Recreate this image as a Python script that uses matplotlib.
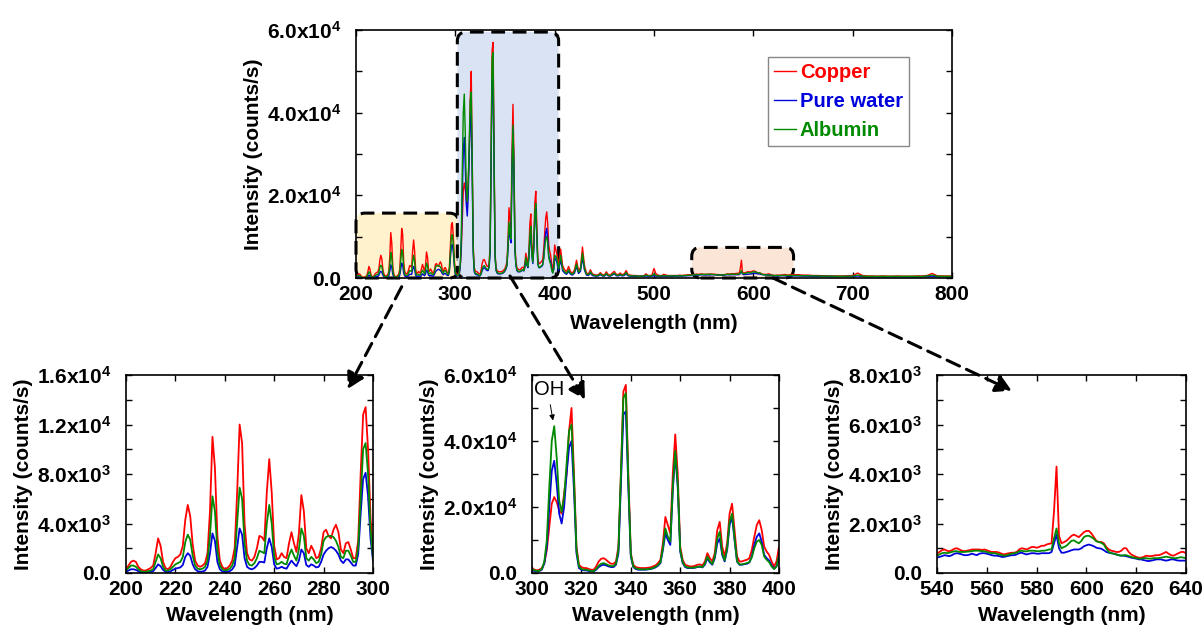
import numpy as np
import matplotlib.pyplot as plt
from matplotlib.patches import FancyBboxPatch, FancyArrowPatch
from matplotlib.ticker import MultipleLocator, FuncFormatter

plt.rcParams['font.family'] = 'Liberation Sans'
plt.rcParams['font.weight'] = 'bold'
plt.rcParams['mathtext.fontset'] = 'custom'
plt.rcParams['mathtext.rm'] = 'Liberation Sans'
plt.rcParams['mathtext.it'] = 'Liberation Sans:italic'
plt.rcParams['mathtext.bf'] = 'Liberation Sans:bold'

# emission spectra, intensity in 10^3 counts/s
wl_uv = np.arange(200, 300)          # 200-299 nm, 1 nm
cu_uv = [0.3, 0.6, 0.9, 1.0, 0.9, 0.5, 0.3, 0.2, 0.2, 0.3,
         0.4, 0.6, 1.6, 2.8, 2.2, 0.9, 0.4, 0.3, 0.5, 0.9,
         1.2, 1.3, 1.5, 2.2, 4.3, 5.5, 4.6, 2.3, 1.0, 0.6,
         0.5, 0.6, 0.8, 1.6, 5.0, 11.0, 8.5, 3.0, 1.0, 0.5,
         0.3, 0.4, 0.6, 1.0, 2.0, 6.5, 12.0, 10.5, 4.0, 1.6,
         1.1, 1.0, 1.3, 2.0, 3.0, 2.9, 2.6, 6.5, 9.2, 6.5,
         2.2, 1.1, 1.2, 1.6, 1.3, 1.2, 2.4, 3.3, 2.4, 1.7,
         3.2, 6.3, 5.0, 2.0, 1.6, 2.2, 1.8, 1.2, 1.3, 2.0,
         3.3, 3.5, 3.0, 2.8, 3.5, 3.9, 3.3, 1.9, 1.6, 2.4,
         2.5, 1.9, 1.2, 1.2, 2.6, 8.0, 12.8, 13.4, 10.0, 4.5]
water_uv = [0.1, 0.2, 0.3, 0.3, 0.25, 0.15, 0.05, 0.03, 0.03, 0.05,
            0.1, 0.15, 0.4, 0.7, 0.55, 0.25, 0.1, 0.08, 0.12, 0.25,
            0.35, 0.4, 0.45, 0.65, 1.3, 1.6, 1.4, 0.7, 0.3, 0.15,
            0.1, 0.12, 0.2, 0.5, 1.6, 3.2, 2.6, 0.9, 0.3, 0.12,
            0.08, 0.1, 0.15, 0.3, 0.6, 2.1, 3.6, 3.1, 1.2, 0.5,
            0.35, 0.3, 0.4, 0.6, 0.9, 0.9, 0.85, 2.0, 2.8, 2.1,
            0.7, 0.35, 0.4, 0.5, 0.4, 0.35, 0.7, 1.0, 0.75, 0.55,
            1.0, 1.9, 1.6, 0.65, 0.5, 0.7, 0.6, 0.45, 0.5, 0.9,
            1.5, 1.8, 2.0, 2.1, 2.0, 1.8, 1.5, 1.0, 0.8, 1.1,
            1.1, 0.85, 0.6, 0.6, 1.5, 4.8, 7.6, 8.1, 6.2, 2.8]
alb_uv = [0.2, 0.4, 0.6, 0.6, 0.5, 0.3, 0.15, 0.1, 0.1, 0.15,
          0.2, 0.3, 0.9, 1.5, 1.2, 0.5, 0.2, 0.2, 0.3, 0.5,
          0.7, 0.8, 0.9, 1.3, 2.5, 3.1, 2.7, 1.4, 0.6, 0.35,
          0.3, 0.35, 0.5, 1.0, 3.0, 6.2, 5.0, 1.8, 0.6, 0.3,
          0.2, 0.25, 0.35, 0.6, 1.2, 4.0, 6.9, 6.0, 2.4, 1.0,
          0.65, 0.6, 0.8, 1.2, 1.8, 1.7, 1.6, 4.0, 5.5, 4.0,
          1.3, 0.7, 0.75, 0.9, 0.75, 0.7, 1.4, 1.9, 1.4, 1.0,
          1.9, 3.6, 3.0, 1.2, 1.0, 1.3, 1.1, 0.8, 0.9, 1.5,
          2.6, 2.9, 3.0, 3.0, 2.9, 2.6, 2.1, 1.3, 1.2, 1.8,
          1.8, 1.4, 0.9, 0.9, 2.0, 6.0, 10.0, 10.5, 8.0, 3.5]

wl_oh = np.arange(300, 401)          # 300-400 nm, 1 nm
cu_oh = [1.5, 1.0, 0.8, 1.0, 1.5, 3.0, 7.0, 14.0, 21.0, 23.0,
         21.5, 19.0, 18.0, 24.0, 30.0, 43.0, 50.0, 30.0, 8.0, 2.5,
         1.8, 1.5, 1.5, 1.2, 1.0, 1.0, 2.0, 3.5, 4.3, 4.5,
         4.0, 3.3, 2.8, 2.8, 3.5, 8.0, 30.0, 55.0, 57.0, 30.0,
         6.0, 2.5, 1.8, 1.6, 1.5, 1.5, 1.5, 1.6, 1.7, 2.0,
         2.3, 3.0, 4.0, 9.0, 17.0, 14.5, 12.0, 30.0, 42.0, 30.0,
         8.0, 4.0, 2.5, 2.2, 2.0, 2.0, 2.2, 2.5, 2.6, 2.3,
         3.5, 6.0, 4.5, 3.5, 6.0, 13.0, 15.5, 8.0, 5.0, 9.0,
         18.0, 21.0, 13.0, 5.0, 3.5, 3.5, 3.8, 4.0, 4.5, 7.0,
         11.0, 14.5, 16.0, 13.0, 8.0, 6.5, 5.5, 3.5, 2.0, 3.5,
         8.0]
water_oh = [1.0, 0.6, 0.5, 0.6, 1.0, 3.0, 8.0, 20.0, 31.0, 34.0,
            27.0, 18.0, 15.0, 20.0, 30.0, 38.0, 40.0, 25.0, 6.0, 1.5,
            1.0, 0.8, 0.8, 0.6, 0.5, 0.5, 1.0, 1.8, 2.3, 2.5,
            2.3, 2.0, 1.8, 1.8, 2.5, 6.0, 27.0, 48.0, 49.0, 26.0,
            5.0, 1.8, 1.2, 1.0, 1.0, 1.0, 1.0, 1.1, 1.2, 1.4,
            1.7, 2.2, 3.0, 7.0, 12.0, 10.0, 8.5, 25.0, 36.0, 26.0,
            6.5, 3.0, 1.8, 1.5, 1.5, 1.5, 1.6, 1.8, 1.9, 1.7,
            2.5, 4.5, 3.2, 2.5, 4.5, 9.0, 10.5, 5.5, 3.5, 7.0,
            14.5, 17.0, 10.0, 3.5, 2.5, 2.5, 2.7, 2.8, 3.2, 5.0,
            8.5, 11.0, 12.0, 9.5, 5.5, 4.5, 3.8, 2.3, 1.3, 2.0,
            5.0]
alb_oh = [1.2, 0.8, 0.6, 0.7, 1.2, 3.5, 10.0, 26.0, 40.0, 44.5,
          35.0, 22.0, 18.5, 23.0, 33.0, 43.0, 45.0, 28.0, 7.0, 2.0,
          1.2, 1.0, 1.0, 0.8, 0.6, 0.6, 1.2, 2.2, 2.8, 3.0,
          2.7, 2.3, 2.1, 2.1, 2.8, 7.0, 30.0, 53.0, 54.5, 28.0,
          5.5, 2.0, 1.4, 1.2, 1.1, 1.1, 1.1, 1.2, 1.3, 1.5,
          1.9, 2.4, 3.3, 7.5, 13.5, 11.0, 9.5, 26.0, 37.0, 27.0,
          7.0, 3.3, 2.0, 1.7, 1.6, 1.6, 1.7, 1.9, 2.0, 1.8,
          2.8, 5.0, 3.5, 2.7, 5.0, 10.5, 12.5, 6.0, 3.8, 7.5,
          15.5, 18.0, 10.5, 3.6, 2.6, 2.6, 2.8, 3.0, 3.3, 4.8,
          7.5, 9.5, 10.0, 8.5, 5.0, 4.0, 3.3, 2.0, 1.2, 2.0,
          5.5]

wl_vis = np.arange(402, 540, 2)      # 402-538 nm, 2 nm
cu_vis = [6.0, 3.0, 7.0, 3.0, 2.0, 1.5, 2.8, 1.5, 1.2, 2.0,
          4.3, 1.8, 2.5, 7.5, 3.0, 1.2, 1.0, 2.0, 1.0, 0.8,
          0.7, 0.8, 1.3, 0.8, 0.7, 1.5, 0.8, 0.7, 1.2, 1.6,
          0.9, 0.8, 1.2, 0.8, 1.0, 1.8, 0.8, 0.7, 0.6, 0.6,
          0.6, 0.5, 0.5, 0.5, 0.6, 1.0, 0.6, 0.6, 0.7, 2.3,
          1.0, 0.7, 0.6, 0.6, 0.9, 0.7, 0.6, 0.6, 0.6, 0.6,
          0.6, 0.6, 0.7, 0.6, 0.7, 0.7, 0.8, 0.8, 0.8]
water_vis = [4.0, 1.8, 4.5, 1.8, 1.2, 0.9, 1.6, 0.9, 0.7, 1.2,
             2.8, 1.1, 1.6, 5.0, 1.9, 0.7, 0.6, 1.2, 0.6, 0.5,
             0.45, 0.5, 0.8, 0.5, 0.45, 0.9, 0.5, 0.45, 0.7, 1.0,
             0.55, 0.5, 0.7, 0.5, 0.6, 1.0, 0.5, 0.45, 0.4, 0.4,
             0.4, 0.4, 0.4, 0.4, 0.4, 0.5, 0.4, 0.4, 0.4, 0.6,
             0.45, 0.4, 0.4, 0.4, 0.45, 0.4, 0.4, 0.4, 0.4, 0.4,
             0.45, 0.45, 0.45, 0.45, 0.5, 0.5, 0.55, 0.55, 0.6]
alb_vis = [5.0, 2.2, 5.5, 2.2, 1.5, 1.1, 2.0, 1.1, 0.9, 1.5,
           3.4, 1.4, 2.0, 6.0, 2.3, 0.9, 0.8, 1.5, 0.8, 0.6,
           0.55, 0.6, 1.0, 0.6, 0.55, 1.1, 0.6, 0.55, 0.9, 1.2,
           0.7, 0.6, 0.9, 0.6, 0.8, 1.3, 0.6, 0.55, 0.5, 0.5,
           0.5, 0.45, 0.45, 0.45, 0.5, 0.7, 0.5, 0.5, 0.5, 1.0,
           0.6, 0.5, 0.5, 0.5, 0.6, 0.5, 0.5, 0.5, 0.5, 0.5,
           0.5, 0.5, 0.55, 0.5, 0.55, 0.6, 0.65, 0.65, 0.7]

wl_na = np.arange(540, 641)          # 540-640 nm, 1 nm
cu_na = [0.78, 0.85, 0.92, 0.95, 0.9, 0.88, 0.92, 0.98, 1.0, 0.95,
         0.9, 0.88, 0.9, 0.92, 0.95, 0.95, 0.95, 0.95, 0.93, 0.95,
         0.92, 0.88, 0.85, 0.85, 0.85, 0.82, 0.78, 0.75, 0.78, 0.8,
         0.82, 0.82, 0.85, 0.95, 1.0, 0.98, 0.95, 1.0, 1.05, 1.05,
         1.02, 1.05, 1.1, 1.1, 1.15, 1.18, 1.2, 2.5, 4.3, 1.5,
         1.2, 1.25, 1.3, 1.4, 1.5, 1.55, 1.5, 1.45, 1.55, 1.65,
         1.7, 1.7, 1.6, 1.45, 1.3, 1.25, 1.25, 1.2, 1.05, 0.95,
         0.9, 0.88, 0.85, 0.85, 0.9, 1.0, 1.0, 0.85, 0.75, 0.7,
         0.65, 0.62, 0.62, 0.65, 0.7, 0.68, 0.68, 0.7, 0.72, 0.72,
         0.75, 0.8, 0.85, 0.78, 0.72, 0.7, 0.75, 0.8, 0.85, 0.85,
         0.8]
water_na = [0.62, 0.65, 0.68, 0.72, 0.7, 0.68, 0.72, 0.78, 0.8, 0.78,
            0.75, 0.72, 0.72, 0.74, 0.78, 0.75, 0.72, 0.78, 0.8, 0.8,
            0.78, 0.75, 0.72, 0.7, 0.7, 0.68, 0.65, 0.65, 0.68, 0.7,
            0.72, 0.72, 0.75, 0.8, 0.82, 0.78, 0.75, 0.78, 0.8, 0.8,
            0.78, 0.78, 0.8, 0.8, 0.8, 0.8, 0.85, 1.2, 1.55, 1.0,
            0.82, 0.82, 0.85, 0.88, 0.92, 0.95, 0.95, 0.95, 1.0, 1.08,
            1.12, 1.15, 1.12, 1.08, 1.02, 1.0, 0.98, 0.92, 0.85, 0.82,
            0.8, 0.78, 0.75, 0.72, 0.7, 0.7, 0.68, 0.65, 0.62, 0.6,
            0.58, 0.55, 0.55, 0.52, 0.5, 0.48, 0.5, 0.52, 0.55, 0.55,
            0.55, 0.52, 0.5, 0.52, 0.55, 0.55, 0.52, 0.5, 0.5, 0.5,
            0.5]
alb_na = [0.7, 0.75, 0.8, 0.82, 0.8, 0.82, 0.85, 0.88, 0.88, 0.85,
          0.85, 0.85, 0.86, 0.87, 0.88, 0.9, 0.9, 0.9, 0.88, 0.88,
          0.85, 0.82, 0.8, 0.8, 0.78, 0.75, 0.72, 0.7, 0.72, 0.75,
          0.78, 0.8, 0.82, 0.88, 0.9, 0.88, 0.87, 0.9, 0.9, 0.9,
          0.88, 0.88, 0.9, 0.9, 0.92, 0.95, 0.95, 1.4, 1.8, 1.2,
          1.0, 1.05, 1.1, 1.2, 1.3, 1.32, 1.25, 1.2, 1.3, 1.45,
          1.5, 1.5, 1.45, 1.38, 1.28, 1.25, 1.22, 1.15, 0.98, 0.85,
          0.8, 0.78, 0.75, 0.72, 0.7, 0.72, 0.72, 0.68, 0.65, 0.62,
          0.6, 0.58, 0.58, 0.6, 0.6, 0.58, 0.58, 0.6, 0.6, 0.6,
          0.62, 0.64, 0.66, 0.64, 0.62, 0.6, 0.6, 0.62, 0.64, 0.62,
          0.6]

wl_ir = np.arange(645, 801, 5)       # 645-800 nm, 5 nm
cu_ir = [0.8, 0.7, 0.7, 0.6, 0.6, 0.55, 0.55, 0.5, 0.5, 0.5,
         0.55, 0.6, 1.2, 0.6, 0.5, 0.5, 0.45, 0.5, 0.45, 0.45,
         0.5, 0.45, 0.45, 0.45, 0.5, 0.5, 0.6, 1.1, 0.55, 0.5,
         0.5, 0.5]
water_ir = [0.5, 0.45, 0.45, 0.4, 0.4, 0.4, 0.35, 0.35, 0.35, 0.35,
            0.35, 0.35, 0.5, 0.35, 0.3, 0.3, 0.3, 0.3, 0.3, 0.3,
            0.3, 0.3, 0.3, 0.3, 0.3, 0.3, 0.35, 0.45, 0.3, 0.3,
            0.3, 0.3]
alb_ir = [0.6, 0.55, 0.55, 0.5, 0.5, 0.45, 0.45, 0.45, 0.4, 0.4,
          0.45, 0.45, 0.7, 0.45, 0.4, 0.4, 0.4, 0.4, 0.4, 0.4,
          0.4, 0.4, 0.4, 0.4, 0.4, 0.4, 0.5, 0.7, 0.45, 0.4,
          0.4, 0.4]

wl = np.concatenate([wl_uv, wl_oh, wl_vis, wl_na, wl_ir])
copper = np.concatenate([cu_uv, cu_oh, cu_vis, cu_na, cu_ir]) * 1e3
water = np.concatenate([water_uv, water_oh, water_vis, water_na, water_ir]) * 1e3
albumin = np.concatenate([alb_uv, alb_oh, alb_vis, alb_na, alb_ir]) * 1e3

labels = ['Copper', 'Pure water', 'Albumin']
colors = ['#ff0000', '#0000dd', '#008a00']
series = [copper, water, albumin]

W, H = 1204, 626


def sci(v, pos=None):
    if v <= 0:
        return '0.0'
    e = int(np.floor(np.log10(v) + 1e-9))
    return f'{v / 10**e:.1f}x10$^{{{e}}}$'


def px_axes(left, top, right, bottom):
    return fig.add_axes([left / W, 1 - bottom / H, (right - left) / W, (bottom - top) / H])


def style(ax, xlim, xstep, ylim, ystep, lw):
    for s, c in zip(series, colors):
        ax.plot(wl, s, color=c, lw=lw)
    ax.set_xlim(*xlim)
    ax.set_ylim(*ylim)
    ax.xaxis.set_major_locator(MultipleLocator(xstep))
    ax.yaxis.set_major_locator(MultipleLocator(ystep))
    ax.yaxis.set_minor_locator(MultipleLocator(ystep / 2))
    ax.yaxis.set_major_formatter(FuncFormatter(sci))
    ax.tick_params(which='both', direction='in', top=True, right=True,
                   length=4, width=1, labelsize=15)
    ax.tick_params(axis='y', pad=11)
    ax.tick_params(axis='x', pad=5)
    for sp in ax.spines.values():
        sp.set_linewidth(1.2)
    ax.set_xlabel('Wavelength (nm)', fontsize=15, fontweight='bold')
    ax.set_ylabel('Intensity (counts/s)', fontsize=15, fontweight='bold')


fig = plt.figure(figsize=(W / 100, H / 100), dpi=100)

ax = px_axes(356, 30, 952, 278)
style(ax, (200, 800), 100, (0, 6e4), 2e4, 1.0)
ax.xaxis.set_label_coords(0.5, -0.145)
ax.yaxis.set_label_coords(-0.156, 0.5)

# highlighted regions with rounded dashed frames
asp = (6e4 / 248) / (600 / 596)
regions = [((200, 0), 103, 1.57e4, '#fff2cc'),
           ((302, 0), 102, 5.95e4, '#dae3f3'),
           ((538, 0), 102.5, 7.4e3, '#fbe5d6')]
for (x0, y0), w, h, fc in regions:
    ax.add_patch(FancyBboxPatch((x0, y0), w, h,
                                boxstyle='round,pad=0,rounding_size=9',
                                mutation_aspect=asp, facecolor=fc,
                                edgecolor='black', lw=2.2,
                                linestyle=(0, (4.5, 2.5)), zorder=1,
                                clip_on=False))

leg = ax.legend(ax.lines, labels, loc='upper left',
                bbox_to_anchor=(767.7 / W, 1 - 56.7 / H),
                bbox_transform=fig.transFigure, borderaxespad=0,
                fancybox=False, edgecolor='#888888', framealpha=1,
                handlelength=1.1, handletextpad=0.2, labelspacing=0.5,
                borderpad=0.3, prop={'size': 14.5, 'weight': 'bold'},
                labelcolor='linecolor')
leg.get_frame().set_linewidth(1.0)

insets = [((126, 375, 373, 573), (200, 300), 20, (0, 1.6e4), 4e3, -0.378),
          ((532, 375, 779, 573), (300, 400), 20, (0, 6e4), 2e4, -0.378),
          ((937, 375, 1186, 573), (540, 640), 20, (0, 8e3), 2e3, -0.375)]
sub = []
for box, xl, xs, yl, ys, ylx in insets:
    a = px_axes(*box)
    style(a, xl, xs, yl, ys, 1.3)
    a.xaxis.set_label_coords(0.5, -0.165)
    a.yaxis.set_label_coords(ylx, 0.5)
    sub.append(a)

# OH band marker
ax2 = sub[1]
ax2.text(307, 5.57e4, 'OH', ha='center', va='center', fontsize=14.5,
         fontweight='normal')
ax2.annotate('', xy=(308.5, 4.62e4), xytext=(307.4, 5.1e4),
             arrowprops=dict(arrowstyle='-|>', color='k', lw=0.7,
                             mutation_scale=8, shrinkA=0, shrinkB=0))

# dashed arrows from the overview to the zoomed panels
arrows = [((401.7, 286.7), (347.7, 389.0)),
          ((510.0, 276.0), (585.0, 399.5)),
          ((773.0, 278.0), (1011.7, 390.7))]
for (x0, y0), (x1, y1) in arrows:
    fig.add_artist(FancyArrowPatch((x0 / W, 1 - y0 / H), (x1 / W, 1 - y1 / H),
                                   transform=fig.transFigure,
                                   arrowstyle='-|>,head_length=0.8,head_width=0.45',
                                   mutation_scale=12, color='black', lw=2.2,
                                   linestyle=(0, (4.5, 2.5)),
                                   shrinkA=0, shrinkB=0))

fig.savefig('out.png', dpi=100)
